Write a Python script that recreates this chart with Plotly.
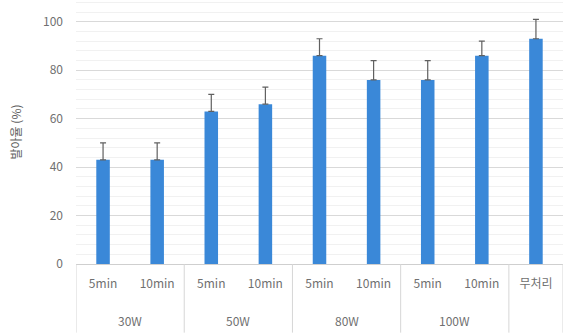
import plotly.graph_objects as go

# Germination rate by plasma power and treatment time
power = ["30W", "30W", "50W", "50W", "80W", "80W", "100W", "100W", ""]
duration = ["5min", "10min", "5min", "10min", "5min", "10min", "5min", "10min", "무처리"]
rate = [43, 43, 63, 66, 86, 76, 76, 86, 93]
err = [7, 7, 7, 7, 7, 8, 8, 6, 8]

font_family = "Noto Sans CJK KR, Noto Sans, sans-serif"
label_color = "#707070"
pos = list(range(len(duration)))

fig = go.Figure(
    go.Bar(
        x=pos,
        y=rate,
        width=0.25,
        marker=dict(color="#3a88d8", line=dict(width=0)),
        error_y=dict(type="data", array=err, symmetric=False, arrayminus=[0] * len(err),
                     color="#606060", thickness=1.2, width=3),
    )
)

# group row under the time labels, plus divider lines between groups
groups = []
for i, p in enumerate(power):
    if groups and groups[-1][0] == p:
        groups[-1][2] = i
    else:
        groups.append([p, i, i])

divider_len = 0.26
for name, first, last in groups:
    if name:
        fig.add_annotation(x=(first + last) / 2, y=0, xref="x", yref="paper",
                           yanchor="middle", yshift=-56, showarrow=False, text=name,
                           font=dict(size=12, color=label_color, family=font_family))
    fig.add_shape(type="line", xref="x", yref="paper", x0=first - 0.5, x1=first - 0.5,
                  y0=0, y1=-divider_len, line=dict(color="#d6d6d6", width=1))
fig.add_shape(type="line", xref="x", yref="paper", x0=pos[-1] + 0.5, x1=pos[-1] + 0.5,
              y0=0, y1=-divider_len, line=dict(color="#d6d6d6", width=1))

fig.update_layout(
    width=563,
    height=336,
    margin=dict(l=76, r=0, t=0, b=72),
    paper_bgcolor="white",
    plot_bgcolor="white",
    showlegend=False,
    font=dict(family=font_family, size=12, color=label_color),
    xaxis=dict(
        range=[-0.5, len(pos) - 0.5],
        tickvals=pos,
        ticktext=duration,
        showgrid=False,
        zeroline=False,
        showline=True,
        linecolor="#cfcfcf",
        linewidth=1,
        ticks="",
        ticklabelstandoff=9,
        tickfont=dict(size=12, color=label_color),
    ),
    yaxis=dict(
        range=[0, 109],
        dtick=20,
        showgrid=True,
        gridcolor="#d9d9d9",
        gridwidth=1,
        zeroline=False,
        showline=False,
        ticks="",
        ticklabelstandoff=12,
        tickfont=dict(size=12, color=label_color),
        minor=dict(dtick=4, showgrid=True, gridcolor="#f1f1f1", gridwidth=1),
        title=dict(text="발아율 (%)", font=dict(size=12, color="#606060"), standoff=18),
    ),
)

fig.write_html("out.html")
